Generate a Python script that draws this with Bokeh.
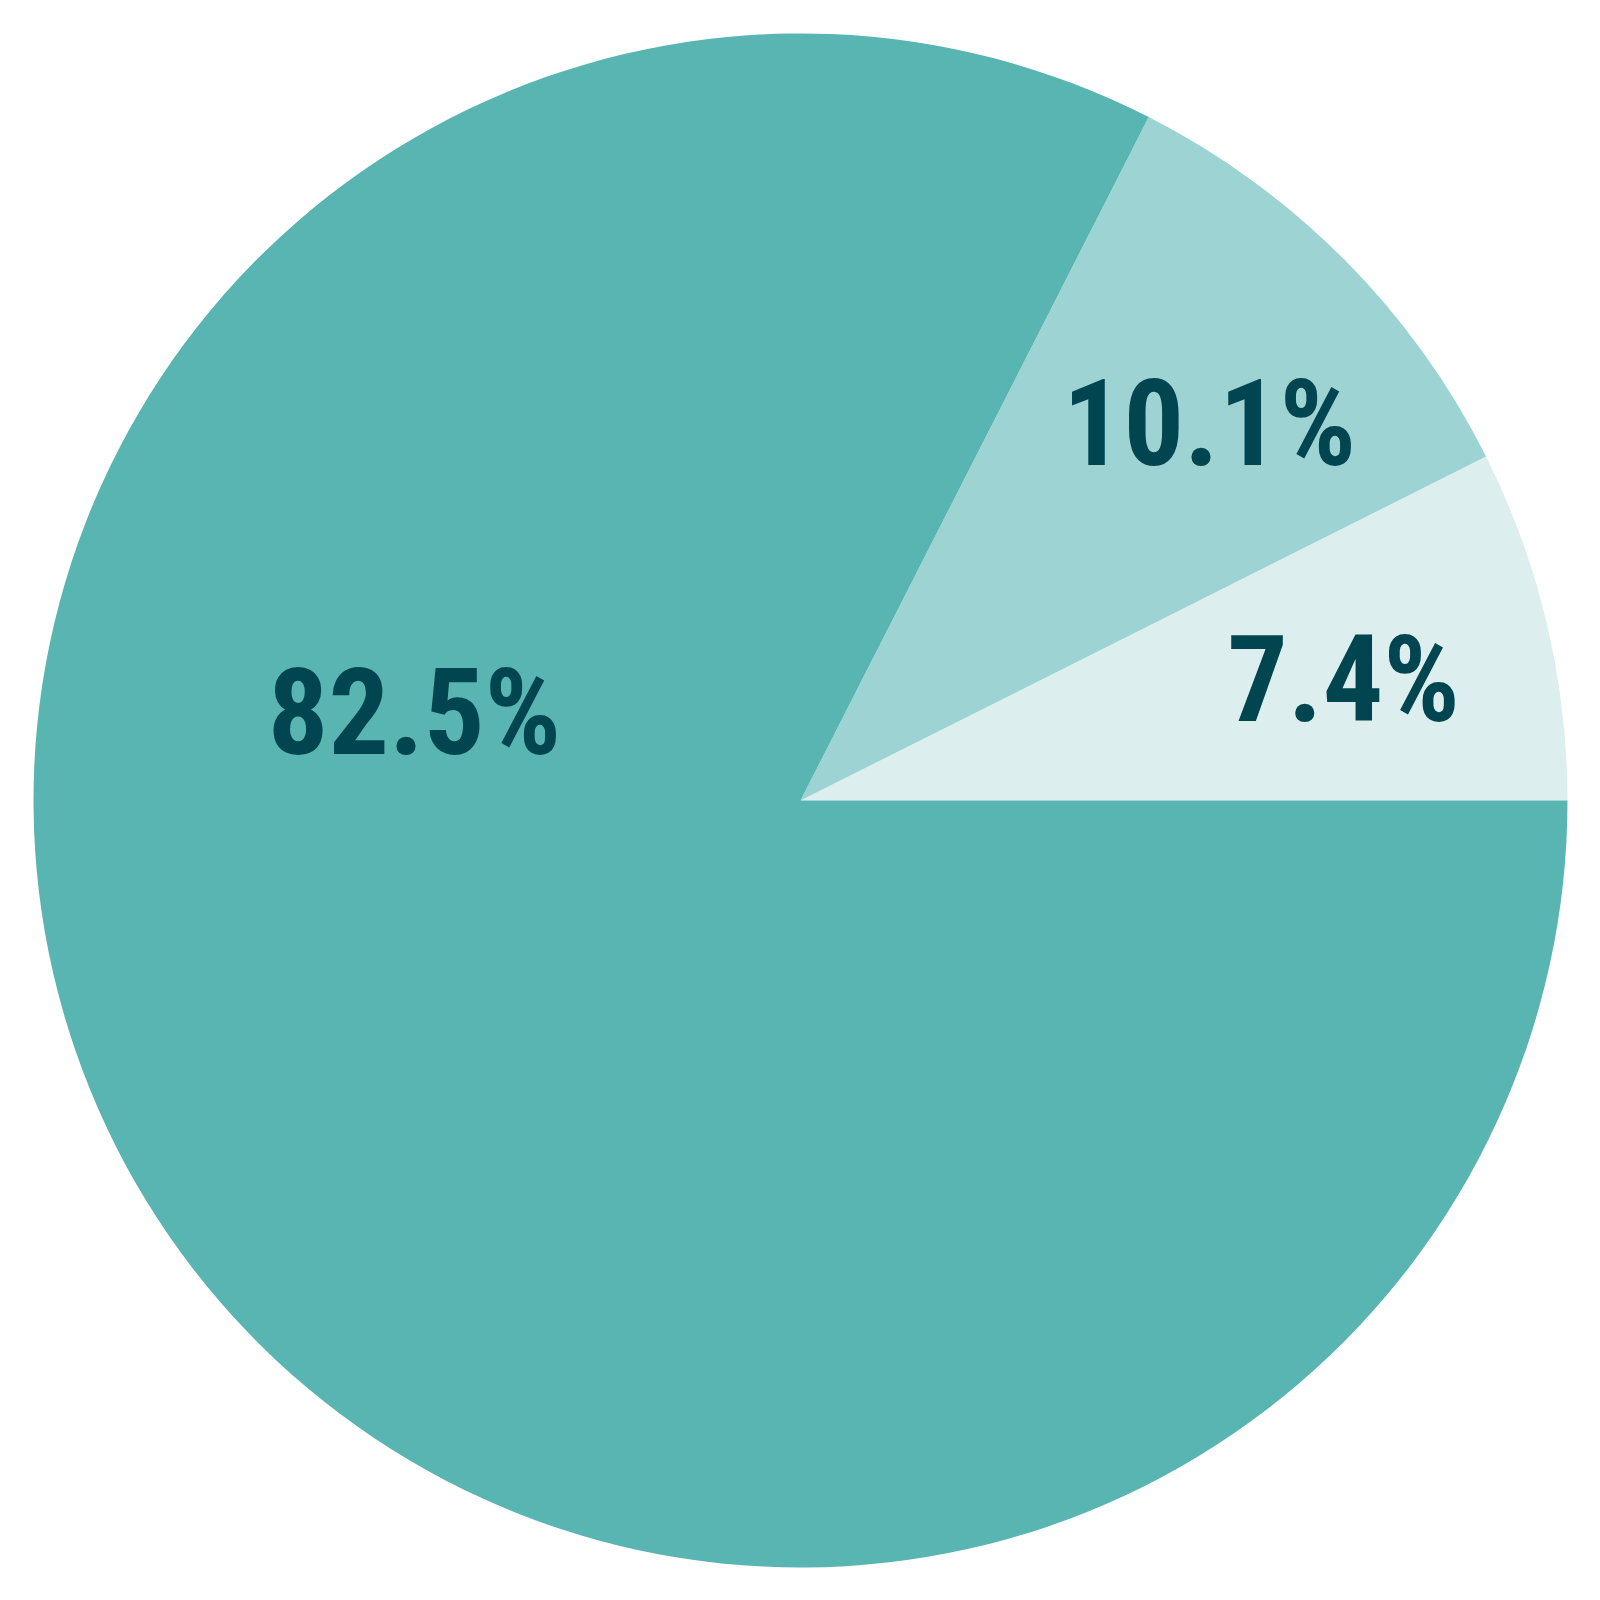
import math
from bokeh.plotting import figure
from bokeh.models import ColumnDataSource, Range1d
from bokeh.core.properties import value
from bokeh.embed import file_html
from bokeh.resources import INLINE

# data
categories = ["A", "B", "C"]
shares = [7.4, 10.1, 82.5]
labels = ["7.4%", "10.1%", "82.5%"]
colors = ["#DCEFEE", "#9DD3D3", "#58B5B2"]

# layout (pixel-like data units, y up)
CX, CY, R = 800, 800, 767
label_x = [1343, 1209, 414]
label_y = [921, 1177, 888]

total = sum(shares)
starts, ends = [], []
acc = 0.0
for s in shares:
    starts.append(2 * math.pi * acc / total)
    acc += s
    ends.append(2 * math.pi * acc / total)

src = ColumnDataSource(dict(cat=categories, start=starts, end=ends, color=colors))
lsrc = ColumnDataSource(dict(x=label_x, y=label_y, text=labels))

p = figure(width=1584, height=1584, output_backend="svg", toolbar_location=None,
           x_range=Range1d(0, 1584), y_range=Range1d(16, 1600), min_border=0)
p.wedge(x=CX, y=CY, radius=R, start_angle="start", end_angle="end",
        fill_color="color", line_color=None, source=src)
p.text(x="x", y="y", text="text", source=lsrc, text_align="center",
       text_baseline="alphabetic", text_font=value("Roboto Condensed, Roboto"),
       text_font_style="bold", text_font_size="120px", text_color="#004550")
p.axis.visible = False
p.grid.visible = False
p.outline_line_color = None
p.background_fill_color = "white"
p.border_fill_color = "white"

open("out.html", "w").write(file_html(p, INLINE))
